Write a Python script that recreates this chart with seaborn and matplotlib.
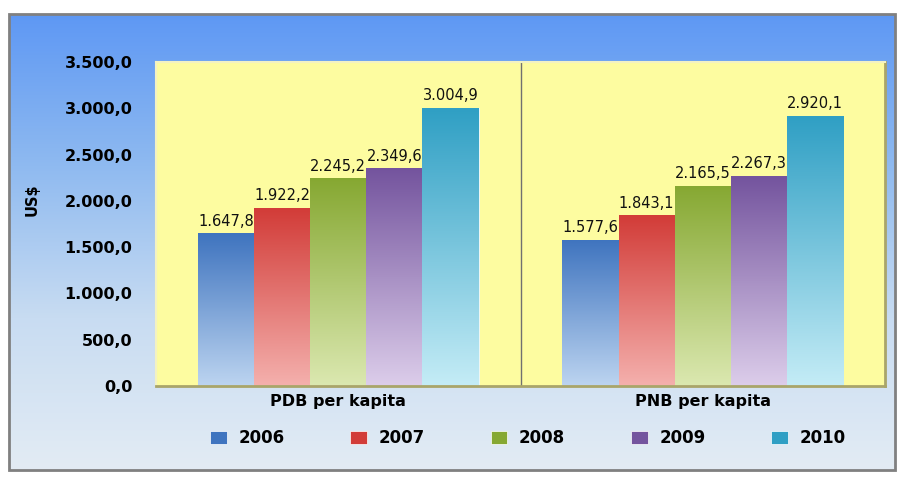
import numpy as np
import pandas as pd
import seaborn as sns
import matplotlib.pyplot as plt
from matplotlib.colors import LinearSegmentedColormap
from matplotlib.patches import Rectangle, Patch

# data
categories = ["PDB per kapita", "PNB per kapita"]
years = ["2006", "2007", "2008", "2009", "2010"]
pdb_values = [1647.8, 1922.2, 2245.2, 2349.6, 3004.9]
pnb_values = [1577.6, 1843.1, 2165.5, 2267.3, 2920.1]
y_ticks = [0, 500, 1000, 1500, 2000, 2500, 3000, 3500]

# (top colour, bottom colour) for each year
bar_colors = {
    "2006": ("#3f74bf", "#bcd4f0"),
    "2007": ("#d23c38", "#f4b0ad"),
    "2008": ("#86a832", "#dbe8b0"),
    "2009": ("#74549e", "#dccdea"),
    "2010": ("#2f9fc4", "#c4ecf6"),
}

df = pd.DataFrame({
    "kategori": np.repeat(categories, len(years)),
    "tahun": years * len(categories),
    "nilai": pdb_values + pnb_values,
})


def fmt(v):
    # 1647.8 -> 1.647,8
    s = f"{v:,.1f}"
    return s.replace(",", "X").replace(".", ",").replace("X", ".")


fig = plt.figure(figsize=(9.01, 4.79), dpi=100)

# background with blue gradient inside a grey frame
bg = fig.add_axes([0, 0, 1, 1])
bg.set_xlim(0, 901)
bg.set_ylim(479, 0)
bg.axis("off")
bg_cmap = LinearSegmentedColormap.from_list("bg", ["#5e98f4", "#8fbaf0", "#c8dcf2", "#e3ecf4"])
bg.imshow(np.linspace(0, 1, 256).reshape(-1, 1), cmap=bg_cmap, aspect="auto",
          extent=[9, 895, 470, 14], zorder=0)
bg.add_patch(Rectangle((9, 14), 886, 456, fill=False, edgecolor="#808080", lw=2, zorder=1))

ax = fig.add_axes([156 / 901, 1 - 386 / 479, 729 / 901, 324 / 479])
ax.set_facecolor("#fdfca0")

sns.barplot(data=df, x="kategori", y="nilai", hue="tahun", hue_order=years,
            order=categories, width=0.77, palette={k: v[0] for k, v in bar_colors.items()},
            saturation=1, dodge=True, ax=ax, legend=False, zorder=2)

# gradient fill for each bar, clipped to its patch
grad = np.linspace(0, 1, 128).reshape(-1, 1)
for container, year in zip(ax.containers, years):
    top, bottom = bar_colors[year]
    cmap = LinearSegmentedColormap.from_list(year, [top, bottom])
    i = years.index(year)
    for bar, val in zip(container, [pdb_values[i], pnb_values[i]]):
        x0, w, h = bar.get_x(), bar.get_width(), bar.get_height()
        bar.set_edgecolor("#ffffff")
        bar.set_linewidth(0.6)
        im = ax.imshow(grad, cmap=cmap, aspect="auto",
                       extent=[x0, x0 + w, 0, h], zorder=2.5)
        im.set_clip_path(bar)
        ax.text(x0 + w / 2, h + 50, fmt(val), ha="center", va="bottom",
                fontsize=10.5, color="#111111", zorder=4)

ax.set_xlim(-0.5, 1.5)
ax.set_ylim(0, 3500)

ax.axvline(0.5, color="#707070", lw=1, zorder=1)

ax.set_yticks(y_ticks)
ax.set_yticklabels([fmt(v) for v in y_ticks], fontsize=11.5, fontweight="bold")
ax.tick_params(axis="y", length=0, pad=17)
ax.tick_params(axis="x", length=0, pad=6)
for lbl in ax.get_xticklabels():
    lbl.set_fontweight("bold")
    lbl.set_fontsize(11.5)
ax.set_xlabel("")
ax.set_ylabel("")

for side in ["top", "left"]:
    ax.spines[side].set_color("#f3f2c2")
    ax.spines[side].set_linewidth(1.5)
for side in ["right", "bottom"]:
    ax.spines[side].set_color("#a9a56a")
    ax.spines[side].set_linewidth(2)

fig.text(32 / 901, 1 - 200 / 479, "US$", rotation=90, ha="center", va="center",
         fontsize=10.5, fontweight="bold")

handles = [Patch(facecolor=bar_colors[y][0], edgecolor="#ffffff", lw=0.5) for y in years]
fig.legend(handles, years, loc="center", bbox_to_anchor=(528 / 901, 1 - 438 / 479),
           ncol=5, frameon=False, handlelength=1.0, handleheight=0.8,
           columnspacing=3.95, handletextpad=0.7, prop={"weight": "bold", "size": 12})

fig.savefig("out.png", dpi=100)
